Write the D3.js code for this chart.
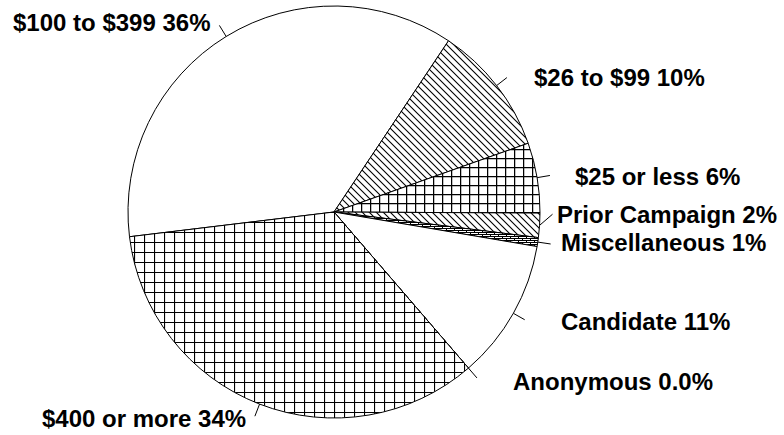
<html>
<head>
<script src="https://d3js.org/d3.v7.min.js"></script>
<style>
  body { margin: 0; background: #fff; }
  text { font-family: "Liberation Sans", Arial, sans-serif; font-weight: bold; font-size: 24px; fill: #000; }
</style>
</head>
<body>
<script>
    // chart data
    var categories = ['$100 to $399', '$26 to $99', '$25 or less', 'Prior Campaign', 'Miscellaneous', 'Candidate', 'Anonymous', '$400 or more'];
    var shares = [36.3, 10.2, 5.5, 1.9, 0.7, 11.0, 0.0, 34.4];
    var pctLabels = ['36%', '10%', '6%', '2%', '1%', '11%', '0.0%', '34%'];
    var fills = ['none', 'diag', 'gridSmall', 'diag', 'brick', 'none', 'none', 'gridLarge'];

    // where each label sits (left x, baseline y), and a bend for leaders that turn toward the label
    var labelPos = [[13, 31], [534, 86], [575, 185], [557, 223], [561, 251], [561, 330], [513, 390], [42, 427]];
    var leaderBend = [0, 0, 0, -12, 0, 0, 0, 0];

    var width = 784, height = 435;
    var cx = 334, cy = 212, radius = 206;

    var svg = d3.select('body').append('svg').attr('width', width).attr('height', height);
    var defs = svg.append('defs');

    var p = defs.append('pattern').attr('id', 'diag').attr('patternUnits', 'userSpaceOnUse')
        .attr('width', 7).attr('height', 7);
    p.append('rect').attr('width', 7).attr('height', 7).attr('fill', '#fff');
    p.append('path').attr('d', 'M-1,-1 L8,8 M-1,6 L1,8 M6,-1 L8,1').attr('stroke', '#000').attr('stroke-width', 1.1);

    p = defs.append('pattern').attr('id', 'gridSmall').attr('patternUnits', 'userSpaceOnUse')
        .attr('width', 9).attr('height', 9);
    p.append('rect').attr('width', 9).attr('height', 9).attr('fill', '#fff');
    p.append('path').attr('d', 'M0.5,0 L0.5,9 M0,0.5 L9,0.5').attr('stroke', '#000').attr('stroke-width', 1.5);

    p = defs.append('pattern').attr('id', 'gridLarge').attr('patternUnits', 'userSpaceOnUse')
        .attr('width', 10).attr('height', 10);
    p.append('rect').attr('width', 10).attr('height', 10).attr('fill', '#fff');
    p.append('path').attr('d', 'M0.5,0 L0.5,10 M0,0.5 L10,0.5').attr('stroke', '#000').attr('stroke-width', 1.2);

    p = defs.append('pattern').attr('id', 'brick').attr('patternUnits', 'userSpaceOnUse')
        .attr('width', 8).attr('height', 4);
    p.append('rect').attr('width', 8).attr('height', 4).attr('fill', '#fff');
    p.append('path').attr('d', 'M0,0.5 L8,0.5 M0.5,0 L0.5,2 M4.5,2 L4.5,4 M0,2.5 L8,2.5').attr('stroke', '#000').attr('stroke-width', 1);

    var startA = -96.9 * Math.PI / 180;
    var pie = d3.pie().sort(null).value(function(d){ return d; })
        .startAngle(startA).endAngle(startA + 2 * Math.PI);
    var arcs = pie(shares);
    var arc = d3.arc().innerRadius(0).outerRadius(radius);

    var g = svg.append('g').attr('transform', 'translate(' + cx + ',' + cy + ')');

    g.selectAll('path.slice').data(arcs).enter().append('path')
        .attr('class', 'slice')
        .attr('d', arc)
        .attr('fill', function(d, i){ return fills[i] == 'none' ? '#fff' : 'url(#' + fills[i] + ')'; })
        .attr('stroke', '#000').attr('stroke-width', 1);

    // leader lines
    function pt(a, r){ return [r * Math.sin(a), -r * Math.cos(a)]; }
    function mid(d){ return (d.startAngle + d.endAngle) / 2; }
    g.selectAll('line.leader').data(arcs).enter().append('line')
        .attr('class', 'leader')
        .attr('x1', function(d){ return pt(mid(d), radius)[0]; })
        .attr('y1', function(d){ return pt(mid(d), radius)[1]; })
        .attr('x2', function(d){ return pt(mid(d), radius + 13)[0]; })
        .attr('y2', function(d, i){ return pt(mid(d), radius + 13)[1] + leaderBend[i]; })
        .attr('stroke', '#000').attr('stroke-width', 1);

    svg.selectAll('text.lbl').data(categories).enter().append('text')
        .attr('class', 'lbl')
        .attr('x', function(d, i){ return labelPos[i][0]; })
        .attr('y', function(d, i){ return labelPos[i][1]; })
        .text(function(d, i){ return d + ' ' + pctLabels[i]; });
</script>
</body>
</html>
